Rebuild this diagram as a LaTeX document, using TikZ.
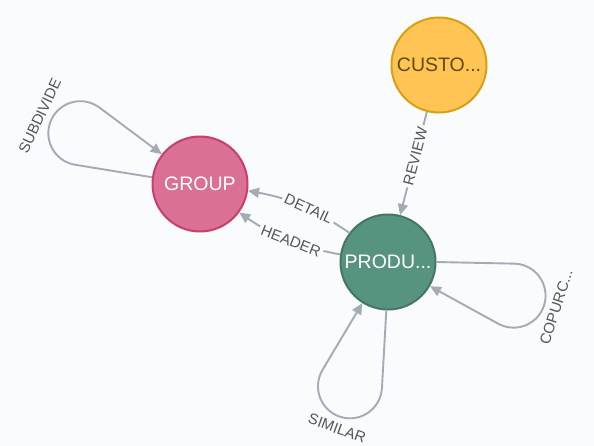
\documentclass[tikz,border=0pt]{standalone}
\usepackage{fontspec}
\setmainfont{Liberation Sans}
\usetikzlibrary{arrows.meta,calc}

\definecolor{bg}{HTML}{F9FBFD}
\definecolor{edgegray}{HTML}{A5ABB6}
\definecolor{labelgray}{HTML}{555555}
\definecolor{grpfill}{HTML}{DA7194}
\definecolor{grpline}{HTML}{CC3C6C}
\definecolor{prodfill}{HTML}{569480}
\definecolor{prodline}{HTML}{447666}
\definecolor{custfill}{HTML}{FFC454}
\definecolor{custline}{HTML}{D7A013}
\definecolor{custtext}{HTML}{604A0E}

\begin{document}
\begin{tikzpicture}[x=1pt,y=1pt,
  entity/.style={circle, minimum size=95pt, inner sep=0pt, line width=2pt,
                 font=\fontsize{19.5}{20}\selectfont},
  rel/.style={draw=edgegray, line width=1.9pt,
              -{Triangle[length=11pt,width=10pt]}},
  rellabel/.style={fill=bg, inner sep=2.5pt, text=labelgray,
                   font=\fontsize{15}{15}\selectfont},
  looplabel/.style={inner sep=0pt, text=labelgray,
                    font=\fontsize{15}{15}\selectfont},
]
% canvas
\useasboundingbox (0,0) rectangle (594,-446);
\fill[bg] (0,0) rectangle (594,-446);

% entities
\node[entity, fill=grpfill, draw=grpline, text=white] (g) at (200,-184) {GROUP};
\node[entity, fill=prodfill, draw=prodline, text=white] (p) at (388,-262) {PRODU...};
\node[entity, fill=custfill, draw=custline, text=custtext] (c) at (439,-65) {CUSTO...};

% relationships between entities
\draw[rel] (c) -- node[rellabel, sloped, pos=0.43] {REVIEW} (p);
\draw[rel] (p.143.5) to[bend right=12] node[rellabel, sloped, pos=0.42] {DETAIL} (g.-8.5);
\draw[rel] (p.171.5) to[bend left=12] node[rellabel, sloped, pos=0.46] {HEADER} (g.-36.5);

% self loops: out along one tangent, round the far end, back along the other
\draw[rel] (g.172) -- ($(g)+(157:130)+(260.81:32)$)
  arc[start angle=260.81, end angle=53.19, radius=32] -- (g.142);
\node[looplabel, rotate=65] (sdl) at ($(g)+(157:174)$) {SUBDIVIDE};

\draw[rel] (p.0) -- ($(p)+(-15:130)+(88.81:32)$)
  arc[start angle=88.81, end angle=-118.81, radius=32] -- (p.-30);
\node[looplabel, rotate=72] (cpl) at ($(p)+(-15:174)$) {COPURC...};

\draw[rel] (p.-92) -- ($(p)+(-107:130)+(-3.19:32)$)
  arc[start angle=-3.19, end angle=-210.81, radius=32] -- (p.-122);
\node[looplabel, rotate=-20] (sml) at ($(p)+(-107:174)$) {SIMILAR};
\end{tikzpicture}
\end{document}
